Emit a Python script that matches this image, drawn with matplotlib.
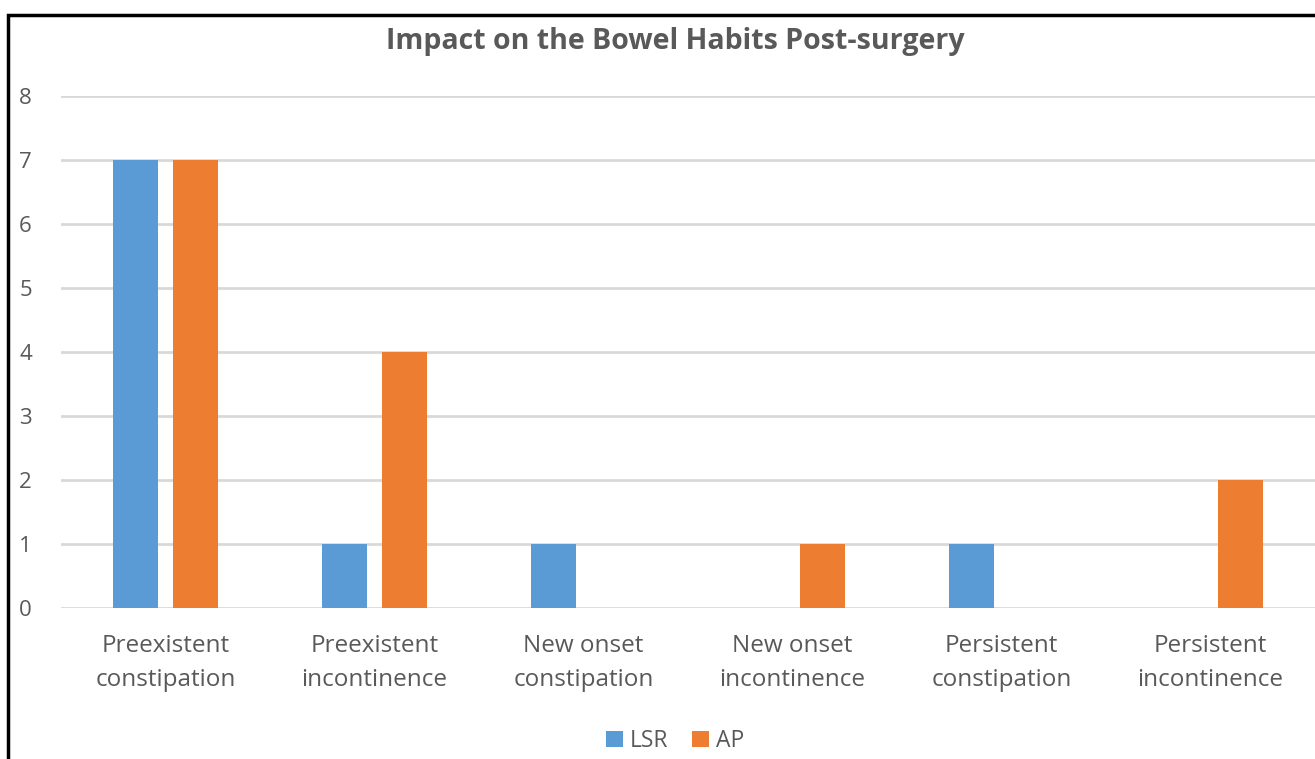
import matplotlib
matplotlib.use("Agg")
import matplotlib.pyplot as plt
import numpy as np
from matplotlib.patches import Rectangle

categories = ["Preexistent\nconstipation", "Preexistent\nincontinence", "New onset\nconstipation",
              "New onset\nincontinence", "Persistent\nconstipation", "Persistent\nincontinence"]
lsr = [7, 1, 1, 0, 1, 0]
ap = [7, 4, 0, 1, 0, 2]
yticks = [0, 1, 2, 3, 4, 5, 6, 7, 8]

W, H = 1315, 759
fig = plt.figure(figsize=(W / 100, H / 100), dpi=100)
plt.rcParams['font.family'] = ['Open Sans', 'DejaVu Sans']
ax = fig.add_axes([61 / W, 1 - 608 / H, (W - 61) / W, (608 - 96) / H])

x = np.arange(len(categories))
bw = 0.22
off = 0.1435
ax.bar(x - off, lsr, bw, color="#5b9bd5", label="LSR", zorder=3)
ax.bar(x + off, ap, bw, color="#ed7d31", label="AP", zorder=3)

ax.set_xlim(-0.5, 5.5)
ax.set_ylim(0, 8)
ax.set_yticks(yticks)
ax.set_xticks(x)
ax.set_xticklabels(categories, fontsize=17.5, color="#595959", linespacing=1.55)
ax.tick_params(axis='y', labelsize=16, labelcolor="#595959", length=0, pad=21)
ax.tick_params(axis='x', length=0, pad=19)
ax.grid(axis='y', color="#d9d9d9", linewidth=2, zorder=0)
for s in ax.spines.values():
    s.set_visible(False)
ax.set_axisbelow(True)

fig.text(675 / W, 1 - 42 / H, "Impact on the Bowel Habits Post-surgery", ha="center", va="center",
         fontsize=20.5, fontweight="bold", color="#595959")

leg = fig.legend(loc="center", bbox_to_anchor=(675 / W, 1 - 741 / H), ncol=2, frameon=False,
                 fontsize=16.5, handlelength=0.75, handleheight=0.75, handletextpad=0.3, columnspacing=1.0,
                 labelcolor="#595959")

fig.patches.append(Rectangle((8 / W, -0.1), 1.2, (1 - 15 / H) + 0.1, transform=fig.transFigure,
                             fill=False, edgecolor="black", linewidth=2.5, zorder=10))

fig.savefig("out.png", dpi=100)
